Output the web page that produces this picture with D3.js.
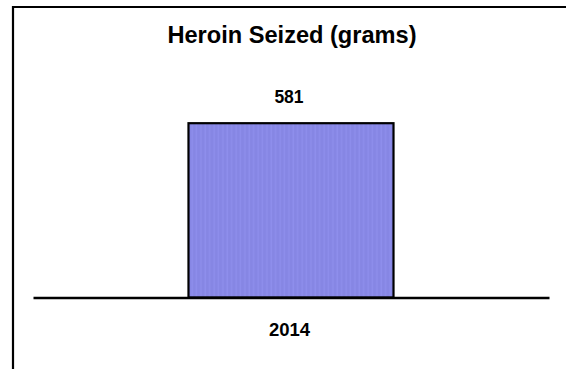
<!DOCTYPE html>
<html>
<head>
<meta charset="utf-8">
<script src="https://cdn.jsdelivr.net/npm/d3@7"></script>
<style>
  html, body { margin: 0; padding: 0; background: #fff; }
  svg { display: block; }
  text { font-family: "Liberation Sans", Arial, sans-serif; font-weight: bold; fill: #000; }
</style>
</head>
<body>
<svg id="chart" width="566" height="369"></svg>
<script>
// Chart data
const title = "Heroin Seized (grams)";
const years = ["2014"];
const seized = [581];
const yMax = 700;

const W = 566, H = 369;
const svg = d3.select("#chart");

// Frame: top and left edges
svg.append("path")
  .attr("d", `M13,${H} L13,7 L${W},7`)
  .attr("fill", "none")
  .attr("stroke", "#000")
  .attr("stroke-width", 2.2);

// Subtle vertical striping in the bar fill
const defs = svg.append("defs");
const pat = defs.append("pattern")
  .attr("id", "barFill")
  .attr("patternUnits", "userSpaceOnUse")
  .attr("width", 4.4).attr("height", 10);
pat.append("rect").attr("width", 4.4).attr("height", 10).attr("fill", "#8686e4");
pat.append("rect").attr("x", 2.2).attr("width", 1.4).attr("height", 10).attr("fill", "#8e8eec");

const baseY = 297.5;
const x = d3.scaleBand().domain(years).range([33, 549]).paddingInner(0.4313).paddingOuter(0.4313);
const y = d3.scaleLinear().domain([0, yMax]).range([baseY, baseY - 210]);

svg.append("text")
  .attr("x", 292).attr("y", 43)
  .attr("text-anchor", "middle")
  .style("font-size", "23.6px")
  .text(title);

const data = years.map((yr, i) => ({ yr, v: seized[i] }));

svg.selectAll("rect.bar").data(data).enter().append("rect")
  .attr("class", "bar")
  .attr("x", d => x(d.yr))
  .attr("y", d => y(d.v))
  .attr("width", x.bandwidth())
  .attr("height", d => y(0) - y(d.v))
  .attr("fill", "url(#barFill)")
  .attr("stroke", "#000")
  .attr("stroke-width", 2.2);

svg.selectAll("text.val").data(data).enter().append("text")
  .attr("class", "val")
  .attr("x", d => x(d.yr) + x.bandwidth() / 2 - 2)
  .attr("y", d => y(d.v) - 20)
  .attr("text-anchor", "middle")
  .style("font-size", "17.5px")
  .text(d => d.v);

// Category axis: baseline only, labels below
const axis = svg.append("g").attr("transform", `translate(0,${baseY})`)
  .call(d3.axisBottom(x).tickSize(0).tickPadding(25));
axis.select(".domain").attr("stroke", "#000").attr("stroke-width", 2.5);
axis.selectAll(".tick text")
  .attr("dx", -1.5)
  .style("font-family", "'Liberation Sans', Arial, sans-serif")
  .style("font-weight", "bold")
  .style("font-size", "18.5px")
  .attr("fill", "#000");
</script>
</body>
</html>
